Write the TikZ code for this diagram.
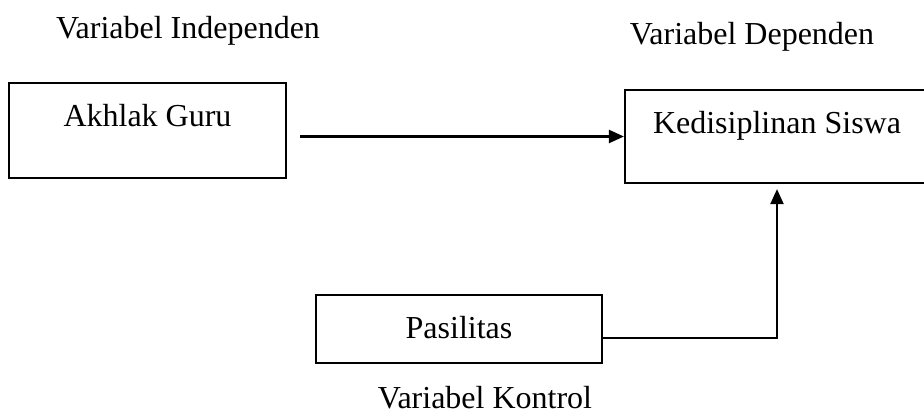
\documentclass[tikz,border=0pt]{standalone}
\usepackage{fontspec}
\setmainfont{Liberation Serif}
\usepackage{tikz}
\usetikzlibrary{positioning,arrows.meta}

\begin{document}
\begin{tikzpicture}[x=1pt,y=-1pt,
  font=\fontsize{32}{38}\selectfont,
  varbox/.style={draw,line width=2.2pt,inner sep=0pt,text height=44pt},
  link/.style={line width=2.2pt,-{Triangle[length=15pt,width=13pt]}}]
  \useasboundingbox (0,0) rectangle (924,417);
  \node[varbox,minimum width=277pt,text depth=51pt] (guru) at (147.5,130.5) {Akhlak Guru};
  \node[varbox,minimum width=304pt,text depth=49pt] (disiplin) at (777,136.5) {Kedisiplinan Siswa};
  \node[varbox,minimum width=286pt,text height=43pt,text depth=25pt] (fasilitas) at (459,329) {Pasilitas};
  \node[anchor=base] (indep) at (188,39) {Variabel Independen};
  \node[anchor=base] (dep) at (752,45) {Variabel Dependen};
  \node[anchor=base] (kontrol) at (485,408) {Variabel Kontrol};
  \draw[link] ([xshift=13pt]guru.east |- disiplin.west) -- (disiplin.west);
  \draw[link,shorten >=5pt] ([yshift=-9pt]fasilitas.east) -| (disiplin.south);
\end{tikzpicture}
\end{document}
